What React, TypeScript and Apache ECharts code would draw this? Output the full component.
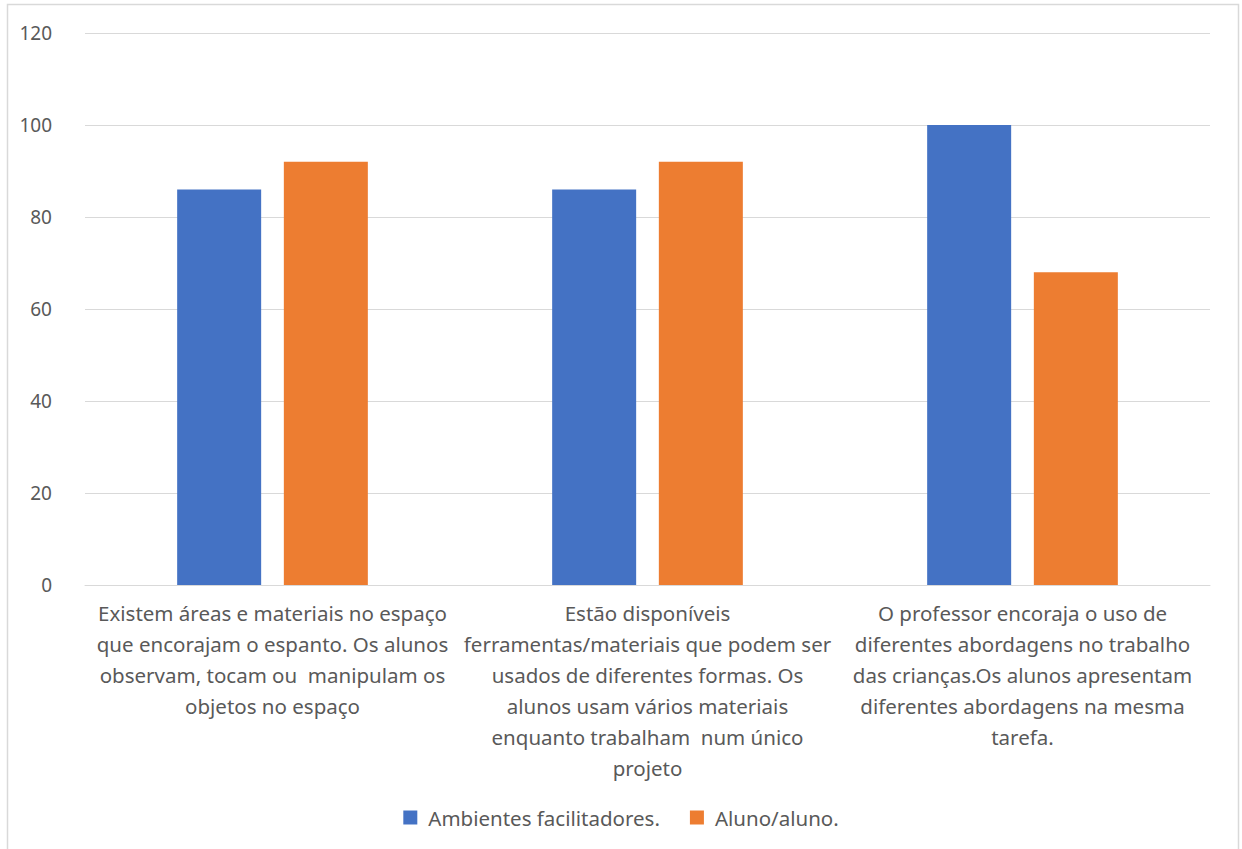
import React, { useEffect, useRef } from "react";
import * as echarts from "echarts";

const categories = [
  "Existem áreas e materiais no espaço\nque encorajam o espanto. Os alunos\nobservam, tocam ou  manipulam os\nobjetos no espaço",
  "Estão disponíveis\nferramentas/materiais que podem ser\nusados de diferentes formas. Os\nalunos usam vários materiais\nenquanto trabalham  num único\nprojeto",
  "O professor encoraja o uso de\ndiferentes abordagens no trabalho\ndas crianças.Os alunos apresentam\ndiferentes abordagens na mesma\ntarefa.",
];
const ambientes = [86, 86, 100];
const aluno = [92, 92, 68];
const seriesNames = ["Ambientes facilitadores.", "Aluno/aluno."];

const FONT = "'Noto Sans', 'Open Sans', sans-serif";

export default function App() {
  const ref = useRef<HTMLDivElement>(null);
  useEffect(() => {
    if (!ref.current) return;
    const chart = echarts.init(ref.current, undefined, { renderer: "svg" });
    chart.setOption({
      animation: false,
      backgroundColor: "#ffffff",
      textStyle: { fontFamily: FONT },
      graphic: [
        {
          type: "rect",
          shape: { x: 7.5, y: 4.5, width: 1231, height: 860 },
          style: { fill: "none", stroke: "#d9d9d9", lineWidth: 1.5 },
          silent: true,
        },
      ],
      legend: {
        top: 802,
        left: "center",
        itemWidth: 14,
        itemHeight: 14,
        itemGap: 30,
        icon: "rect",
        textStyle: {
          color: "#595959",
          fontSize: 20.5,
          fontFamily: FONT,
          padding: [0, 0, 0, 6],
        },
        data: seriesNames,
      },
      grid: { left: 85, right: 32, top: 33, bottom: 264, containLabel: false },
      xAxis: {
        type: "category",
        data: categories,
        axisLine: { lineStyle: { color: "#d9d9d9", width: 1 } },
        axisTick: { show: false },
        axisLabel: {
          interval: 0,
          color: "#595959",
          fontSize: 20.5,
          lineHeight: 31,
          margin: 12,
          fontFamily: FONT,
          align: "center",
        },
      },
      yAxis: {
        type: "value",
        min: 0,
        max: 120,
        interval: 20,
        axisLine: { show: false },
        axisTick: { show: false },
        splitLine: { lineStyle: { color: "#d9d9d9", width: 1 } },
        axisLabel: { color: "#595959", fontSize: 19, margin: 33, fontFamily: FONT },
      },
      series: [
        {
          name: seriesNames[0],
          type: "bar",
          data: ambientes,
          barWidth: 84,
          barGap: "27%",
          itemStyle: { color: "#4472c4" },
        },
        {
          name: seriesNames[1],
          type: "bar",
          data: aluno,
          barWidth: 84,
          itemStyle: { color: "#ed7d31" },
        },
      ],
    });
    return () => chart.dispose();
  }, []);
  return (
    <div
      ref={ref}
      style={{ position: "fixed", left: 0, top: 0, width: 1242, height: 849 }}
    />
  );
}
